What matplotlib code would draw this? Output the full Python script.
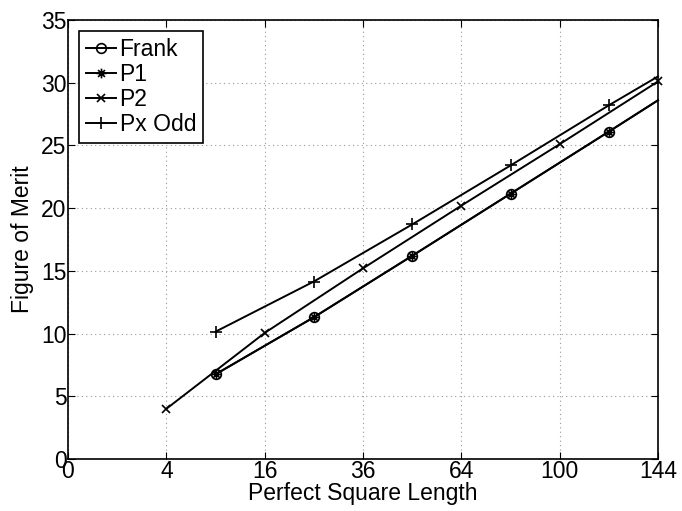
import numpy as np
import matplotlib
matplotlib.use("Agg")
import matplotlib.pyplot as plt
from matplotlib.path import Path

plt.rcParams['font.family'] = ['Liberation Sans', 'DejaVu Sans']

# Sequence lengths (perfect squares) and figure of merit per code family
frank_len = [9, 25, 49, 81, 121, 144]
frank_fom = [6.75, 11.3, 16.2, 21.15, 26.1, 28.6]

p1_len = [9, 25, 49, 81, 121, 144]
p1_fom = [6.75, 11.3, 16.2, 21.15, 26.1, 28.6]

p2_len = [4, 16, 36, 64, 100, 144]
p2_fom = [4.0, 10.05, 15.2, 20.2, 25.1, 30.1]

px_len = [9, 25, 49, 81, 121, 144]
px_fom = [10.15, 14.15, 18.7, 23.4, 28.2, 30.5]

xticks = [0, 4, 16, 36, 64, 100, 144]
yticks = [0, 5, 10, 15, 20, 25, 30, 35]

FS = 16.5

# MATLAB-style asterisk marker: plus and cross overlaid
asterisk = Path(
    [(-1, 0), (1, 0), (0, -1), (0, 1),
     (-0.707, -0.707), (0.707, 0.707), (-0.707, 0.707), (0.707, -0.707)],
    [Path.MOVETO, Path.LINETO] * 4,
)

fig = plt.figure(figsize=(6.82, 5.11), dpi=100)
ax = fig.add_axes([68 / 682, 52 / 511, 590 / 682, 439 / 511])
ax.set_xscale('function', functions=(np.sqrt, np.square))

kw = dict(color='black', lw=1.4, mew=1.2, clip_on=False)
ax.plot(frank_len, frank_fom, marker='o', ms=7, mfc='none', markevery=[0, 1, 2, 3, 4],
        label='Frank', **kw)
ax.plot(p1_len, p1_fom, marker=asterisk, ms=7, markevery=[0, 1, 2, 3, 4],
        label='P1', **kw)
ax.plot(p2_len, p2_fom, marker='x', ms=6, label='P2', **kw)
ax.plot(px_len, px_fom, marker='+', ms=9, markevery=[0, 1, 2, 3, 4],
        label='Px Odd', **kw)

ax.set_xlim(0, 144)
ax.set_ylim(0, 35)
ax.set_xticks(xticks)
ax.set_xticklabels([str(t) for t in xticks])
ax.set_yticks(yticks)
ax.minorticks_off()
ax.tick_params(direction='in', top=True, right=True, labelsize=FS, length=5,
               width=0.8, pad=1)
ax.grid(True, linestyle=(0, (1, 3)), color='#999999', lw=0.8)
for s in ax.spines.values():
    s.set_linewidth(1.2)

ax.set_xlabel('Perfect Square Length', fontsize=FS, labelpad=-1)
ax.set_ylabel('Figure of Merit', fontsize=FS, labelpad=5)

leg = ax.legend(loc='upper left', fontsize=FS, handlelength=1.3, handletextpad=0.15,
                borderpad=0.3, labelspacing=0.08, borderaxespad=0.5,
                fancybox=False, framealpha=1, edgecolor='black')
leg.get_frame().set_linewidth(1.2)

fig.savefig('out.png', dpi=100)
